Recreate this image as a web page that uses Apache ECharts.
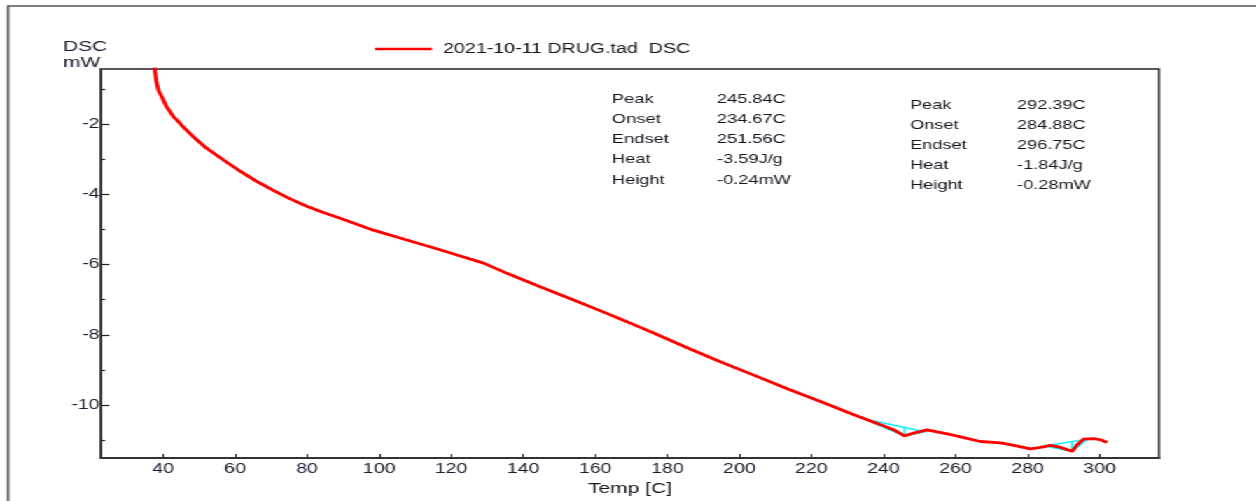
<!DOCTYPE html>
<html>
<head>
<meta charset="utf-8">
<script src="https://cdn.jsdelivr.net/npm/echarts@6/dist/echarts.min.js"></script>
<style>
  html, body { margin: 0; padding: 0; background: #fff; overflow: hidden; }
  #wrap { width: 1256px; height: 501px; overflow: hidden; }
  /* the instrument export is horizontally stretched, so the chart is laid out narrower and widened */
  #chart { width: 897px; height: 501px; transform: scaleX(1.400223); transform-origin: 0 0; }
</style>
</head>
<body>
<div id="wrap"><div id="chart"></div></div>
<script>
// DSC trace: temperature (C) and heat flow (mW)
const temps = [37.6, 38.1, 38.7, 39.4, 40.1, 41.0, 42.9, 44.3, 45.6, 48.4, 52.1, 56.8, 61.4, 66.0,
  70.6, 75.3, 79.9, 84.5, 89.2, 93.8, 98.4, 107.7, 116.9, 123.0, 129.0, 135.5, 144.7, 154.0, 163.2,
  167.0, 172.5, 176.2, 185.5, 194.7, 204.0, 213.3, 222.5, 231.8, 235.5, 239.2, 242.9, 245.84, 248.4,
  252.1, 257.7, 261.4, 266.9, 272.5, 276.2, 280.8, 283.6, 286.4, 289.2, 292.39, 293.8, 295.6, 298.4,
  300.3, 302.1];
const dsc = [-0.38, -0.75, -1.03, -1.17, -1.32, -1.51, -1.79, -1.93, -2.08, -2.36, -2.69, -3.02,
  -3.34, -3.63, -3.89, -4.13, -4.34, -4.52, -4.68, -4.85, -5.02, -5.30, -5.58, -5.77, -5.96, -6.25,
  -6.63, -7.01, -7.39, -7.55, -7.79, -7.95, -8.37, -8.77, -9.15, -9.54, -9.90, -10.28, -10.42,
  -10.56, -10.71, -10.88, -10.80, -10.71, -10.82, -10.91, -11.04, -11.08, -11.15, -11.25, -11.21,
  -11.15, -11.21, -11.32, -11.13, -10.97, -10.96, -10.99, -11.07];

// peak analysis results: [peak, onset, endset, heat, height]
const peak1 = [245.84, 234.67, 251.56, -3.59, -0.24];
const peak2 = [292.39, 284.88, 296.75, -1.84, -0.28];
// baseline levels at onset and endset (mW)
const base1 = [-10.40, -10.76];
const base2 = [-11.17, -10.965];
const resultNames = ['Peak', 'Onset', 'Endset', 'Heat', 'Height'];
const resultUnits = ['C', 'C', 'C', 'J/g', 'mW'];

const xTicks = [40, 60, 80, 100, 120, 140, 160, 180, 200, 220, 240, 260, 280, 300];
const yTicks = [-10, -8, -6, -4, -2];
const yMinorTicks = [-11, -9, -7, -5, -3, -1];

const seriesName = '2021-10-11 DRUG.tad  DSC';

// horizontal stretch of the layout
const SX = 1.400223;
const px = v => v / SX;

const curve = temps.map((t, i) => [t, dsc[i]]);

function peakMarks(p, b) {
  const [pk, on, off, , h] = p;
  const pv = dsc[temps.indexOf(pk)];
  return [
    { coords: [[on, b[0]], [off, b[1]]] },
    { coords: [[pk, pv], [pk, pv - h]] },
    { coords: [[on, b[0]], [pk, pv], [off, b[1]]] }
  ];
}

function resultBlock(p, xLabel, xValue, yTop, step) {
  const out = [];
  resultNames.forEach((n, i) => {
    const y = yTop + i * step;
    out.push({ type: 'text', x: px(xLabel), y: y,
      style: { text: n, fill: '#15151f', font: '13px "Liberation Sans", Arial, sans-serif', verticalAlign: 'middle' } });
    out.push({ type: 'text', x: px(xValue), y: y,
      style: { text: p[i].toFixed(2) + resultUnits[i], fill: '#15151f', font: '13px "Liberation Sans", Arial, sans-serif', verticalAlign: 'middle' } });
  });
  return out;
}

const chart = echarts.init(document.getElementById('chart'), null, { renderer: 'canvas' });
const fontFam = '"Liberation Sans", Arial, sans-serif';

chart.setOption({
  animation: false,
  backgroundColor: '#fff',
  textStyle: { fontFamily: fontFam },
  grid: {
    left: px(101), right: px(1256 - 1159), top: 69, bottom: 43,
    show: true, borderColor: '#222', borderWidth: 1.5, backgroundColor: 'transparent'
  },
  legend: {
    data: [seriesName],
    left: px(375), top: 42, padding: 0,
    icon: 'rect', itemWidth: px(57), itemHeight: 2.5,
    textStyle: { color: '#15151f', fontSize: 14, fontFamily: fontFam, padding: [0, 0, 0, 3] }
  },
  xAxis: {
    type: 'value', min: 22.78, max: 316.5,
    name: 'Temp [C]', nameLocation: 'middle', nameGap: 17,
    nameTextStyle: { color: '#15151f', fontSize: 15, fontFamily: fontFam },
    axisLine: { show: true, onZero: false, lineStyle: { color: '#333', width: 2 } },
    axisTick: { show: true, inside: true, length: 4, customValues: xTicks, lineStyle: { color: '#222', width: 1 } },
    axisLabel: { customValues: xTicks, margin: 4, color: '#1a1a2e', fontSize: 14, fontFamily: fontFam },
    splitLine: { show: false }
  },
  yAxis: [{
    type: 'value', min: -11.51, max: -0.43,
    axisLine: { show: true, onZero: false, lineStyle: { color: '#333', width: 1.5 } },
    axisTick: { show: true, inside: true, length: 6, customValues: yTicks, lineStyle: { color: '#222', width: 1.2 } },
    axisLabel: { customValues: yTicks, margin: 1, color: '#1a1a2e', fontSize: 14, fontFamily: fontFam },
    splitLine: { show: false }
  }, {
    type: 'value', min: -11.51, max: -0.43, position: 'left',
    axisLine: { show: false },
    axisTick: { show: true, inside: true, length: 3, customValues: yMinorTicks, lineStyle: { color: '#222', width: 1.2 } },
    axisLabel: { show: false },
    splitLine: { show: false }
  }],
  series: [{
    name: seriesName, type: 'line', data: curve,
    symbol: 'none', showSymbol: false, clip: true,
    lineStyle: { color: '#ff0000', width: 2.8 },
    itemStyle: { color: '#ff0000' }
  }, {
    name: 'peaks', type: 'lines', coordinateSystem: 'cartesian2d', polyline: true, silent: true,
    data: peakMarks(peak1, base1).concat(peakMarks(peak2, base2)),
    lineStyle: { color: '#14f0ff', width: 1.5, opacity: 1 }
  }],
  graphic: [
    { type: 'polyline', shape: { points: [[px(8), 501], [px(8), 6], [897, 6]] },
      style: { stroke: '#555', lineWidth: 1.7, fill: null } },
    { type: 'text', x: px(63), y: 47,
      style: { text: 'DSC', fill: '#1a1a2e', font: '15px ' + fontFam, verticalAlign: 'middle' } },
    { type: 'text', x: px(63), y: 63,
      style: { text: 'mW', fill: '#1a1a2e', font: '15px ' + fontFam, verticalAlign: 'middle' } }
  ].concat(resultBlock(peak1, 612, 717, 99, 20.3))
   .concat(resultBlock(peak2, 910, 1017, 105, 20.2))
});
</script>
</body>
</html>
